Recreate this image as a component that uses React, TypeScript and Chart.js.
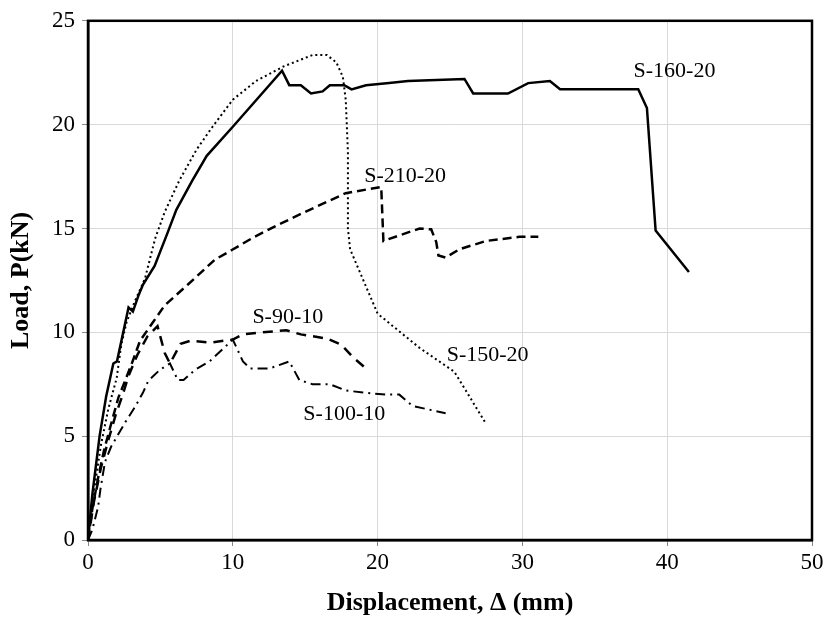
import React, { useEffect, useRef } from "react";
import { Chart, registerables } from "chart.js";

Chart.register(...registerables);

// ---- Data (Displacement mm, Load kN) ----
const S160_X = [0, 0.3, 0.8, 1.25, 1.75, 2.0, 2.8, 3.1, 3.5, 3.8, 4.6, 5.5, 6.1, 7.2, 8.2, 10.0, 13.4, 13.9, 14.7, 15.4, 16.2, 16.7, 17.7, 18.2, 19.2, 20.8, 22.1, 26.0, 26.6, 29.0, 30.4, 31.9, 32.6, 38.0, 38.6, 39.2, 41.5];
const S160_Y = [0, 2.2, 5.0, 6.9, 8.5, 8.6, 11.2, 11.0, 11.8, 12.3, 13.2, 14.8, 15.9, 17.3, 18.5, 19.9, 22.6, 21.9, 21.9, 21.5, 21.6, 21.9, 21.9, 21.7, 21.9, 22.0, 22.1, 22.2, 21.5, 21.5, 22.0, 22.1, 21.7, 21.7, 20.8, 14.9, 12.9];

const S150_X = [0, 0.4, 0.9, 1.4, 1.98, 2.3, 2.67, 3.24, 3.94, 4.63, 5.3, 6.3, 7.5, 8.6, 10.0, 11.6, 13.5, 15.5, 16.5, 17.15, 17.6, 17.8, 17.95, 17.95, 18.1, 20.0, 22.9, 25.3, 27.4];
const S150_Y = [0, 2.3, 4.6, 6.3, 7.8, 9.4, 10.5, 11.5, 12.6, 14.5, 15.8, 17.3, 18.8, 19.9, 21.2, 22.1, 22.8, 23.35, 23.35, 23.0, 22.3, 21.2, 18.7, 15.0, 14.0, 10.9, 9.25, 8.1, 5.7];

const S210_X = [0, 0.3, 0.7, 1.1, 1.6, 2.1, 2.55, 3.0, 3.6, 4.4, 5.3, 6.9, 8.76, 9.9, 11.5, 13.2, 15.0, 17.8, 20.25, 20.4, 22.9, 23.7, 24.05, 24.2, 24.7, 25.65, 27.5, 29.8, 31.1];
const S210_Y = [0, 1.5, 3.0, 4.3, 5.6, 6.86, 7.65, 8.45, 9.6, 10.4, 11.3, 12.3, 13.5, 13.95, 14.6, 15.2, 15.8, 16.7, 17.0, 14.4, 15.0, 14.96, 14.35, 13.7, 13.6, 14.0, 14.4, 14.6, 14.6];

const S90_X = [0, 0.4, 0.9, 1.4, 1.9, 2.4, 2.8, 3.4, 4.1, 4.8, 5.3, 5.66, 6.4, 7.1, 8.4, 10.0, 10.7, 12.0, 13.7, 14.7, 16.5, 17.5, 18.3, 19.3];
const S90_Y = [0, 1.8, 3.5, 4.8, 6.0, 7.0, 7.9, 8.9, 9.8, 10.3, 9.0, 8.5, 9.45, 9.6, 9.5, 9.65, 9.9, 10.0, 10.1, 9.9, 9.7, 9.4, 8.8, 8.2];

const S100_X = [0, 0.3, 0.7, 0.85, 1.17, 1.6, 2.1, 2.6, 3.24, 3.8, 4.16, 4.97, 5.66, 6.2, 6.6, 7.4, 8.4, 10.0, 10.7, 11.2, 12.55, 13.9, 14.6, 15.5, 16.7, 17.8, 19.0, 20.6, 21.5, 22.4, 24.7];
const S100_Y = [0, 0.5, 1.6, 2.4, 3.75, 4.5, 5.1, 5.7, 6.4, 7.1, 7.66, 8.2, 8.5, 7.7, 7.7, 8.2, 8.6, 9.65, 8.6, 8.26, 8.26, 8.6, 7.7, 7.5, 7.5, 7.2, 7.1, 7.0, 7.0, 6.46, 6.1];

const SERIES_NAMES = ["S-160-20", "S-150-20", "S-210-20", "S-90-10", "S-100-10"];
// label anchors in data coordinates
const LABEL_X = [40.5, 27.6, 21.9, 13.8, 17.7];
const LABEL_Y = [22.56, 8.9, 17.5, 10.75, 6.07];

const X_TITLE = "Displacement, \u0394 (mm)";
const Y_TITLE = "Load, P(kN)";

const pts = (xs: number[], ys: number[]) => xs.map((x, i) => ({ x, y: ys[i] }));

const SERIF = '"Liberation Serif", "Times New Roman", serif';

const framePlugin = {
  id: "frameAndLabels",
  afterDatasetsDraw(chart: any) {
    const { ctx, chartArea, scales } = chart;
    const { left, top, right, bottom } = chartArea;
    ctx.save();
    ctx.strokeStyle = "#000";
    ctx.lineWidth = 2.5;
    ctx.strokeRect(left, top, right - left, bottom - top);
    ctx.font = `22px ${SERIF}`;
    ctx.fillStyle = "#000";
    ctx.textAlign = "center";
    ctx.textBaseline = "middle";
    SERIES_NAMES.forEach((name, i) => {
      ctx.fillText(name, scales.x.getPixelForValue(LABEL_X[i]), scales.y.getPixelForValue(LABEL_Y[i]));
    });
    ctx.restore();
  },
};

export default function App() {
  const ref = useRef<HTMLCanvasElement>(null);
  useEffect(() => {
    document.body.style.margin = "0";
    const common = { showLine: true, pointRadius: 0, borderColor: "#000", backgroundColor: "#000", tension: 0, fill: false };
    const chart = new Chart(ref.current!, {
      type: "scatter",
      data: {
        datasets: [
          { ...common, label: SERIES_NAMES[0], data: pts(S160_X, S160_Y), borderWidth: 2.5 },
          { ...common, label: SERIES_NAMES[1], data: pts(S150_X, S150_Y), borderWidth: 2, borderDash: [2, 3] },
          { ...common, label: SERIES_NAMES[2], data: pts(S210_X, S210_Y), borderWidth: 2.5, borderDash: [9, 5] },
          { ...common, label: SERIES_NAMES[3], data: pts(S90_X, S90_Y), borderWidth: 2.5, borderDash: [10, 7] },
          { ...common, label: SERIES_NAMES[4], data: pts(S100_X, S100_Y), borderWidth: 2, borderDash: [10, 5, 2, 5] },
        ] as any,
      },
      options: {
        animation: false,
        responsive: false,
        layout: { padding: { top: 17, right: 16, left: 0, bottom: 0 } },
        plugins: { legend: { display: false }, tooltip: { enabled: false } },
        scales: {
          x: {
            type: "linear",
            min: 0,
            max: 50,
            ticks: { stepSize: 10, color: "#000", font: { family: SERIF, size: 23 }, padding: 3, maxRotation: 0 },
            grid: { color: "#d9d9d9", lineWidth: 1, tickLength: 6, tickColor: "#888" },
            border: { display: true, color: "#000", width: 2.5 },
            title: { display: true, text: X_TITLE, color: "#000", font: { family: SERIF, size: 26, weight: "bold" }, padding: { top: 0, bottom: 2 } },
            afterFit: (s: any) => { s.height = 81; },
          },
          y: {
            type: "linear",
            min: 0,
            max: 25,
            ticks: { stepSize: 5, color: "#000", font: { family: SERIF, size: 23 }, padding: 7 },
            grid: { color: "#d9d9d9", lineWidth: 1, tickLength: 6, tickColor: "#888" },
            border: { display: true, color: "#000", width: 2.5 },
            title: { display: true, text: Y_TITLE, color: "#000", font: { family: SERIF, size: 26, weight: "bold" }, padding: { top: 6, bottom: 0 } },
            afterFit: (s: any) => { s.width = 88; },
          },
        },
      } as any,
      plugins: [framePlugin],
    });
    return () => chart.destroy();
  }, []);
  return (
    <div style={{ width: 828, height: 621 }}>
      <canvas ref={ref} width={828} height={621} style={{ width: 828, height: 621, display: "block" }} />
    </div>
  );
}
